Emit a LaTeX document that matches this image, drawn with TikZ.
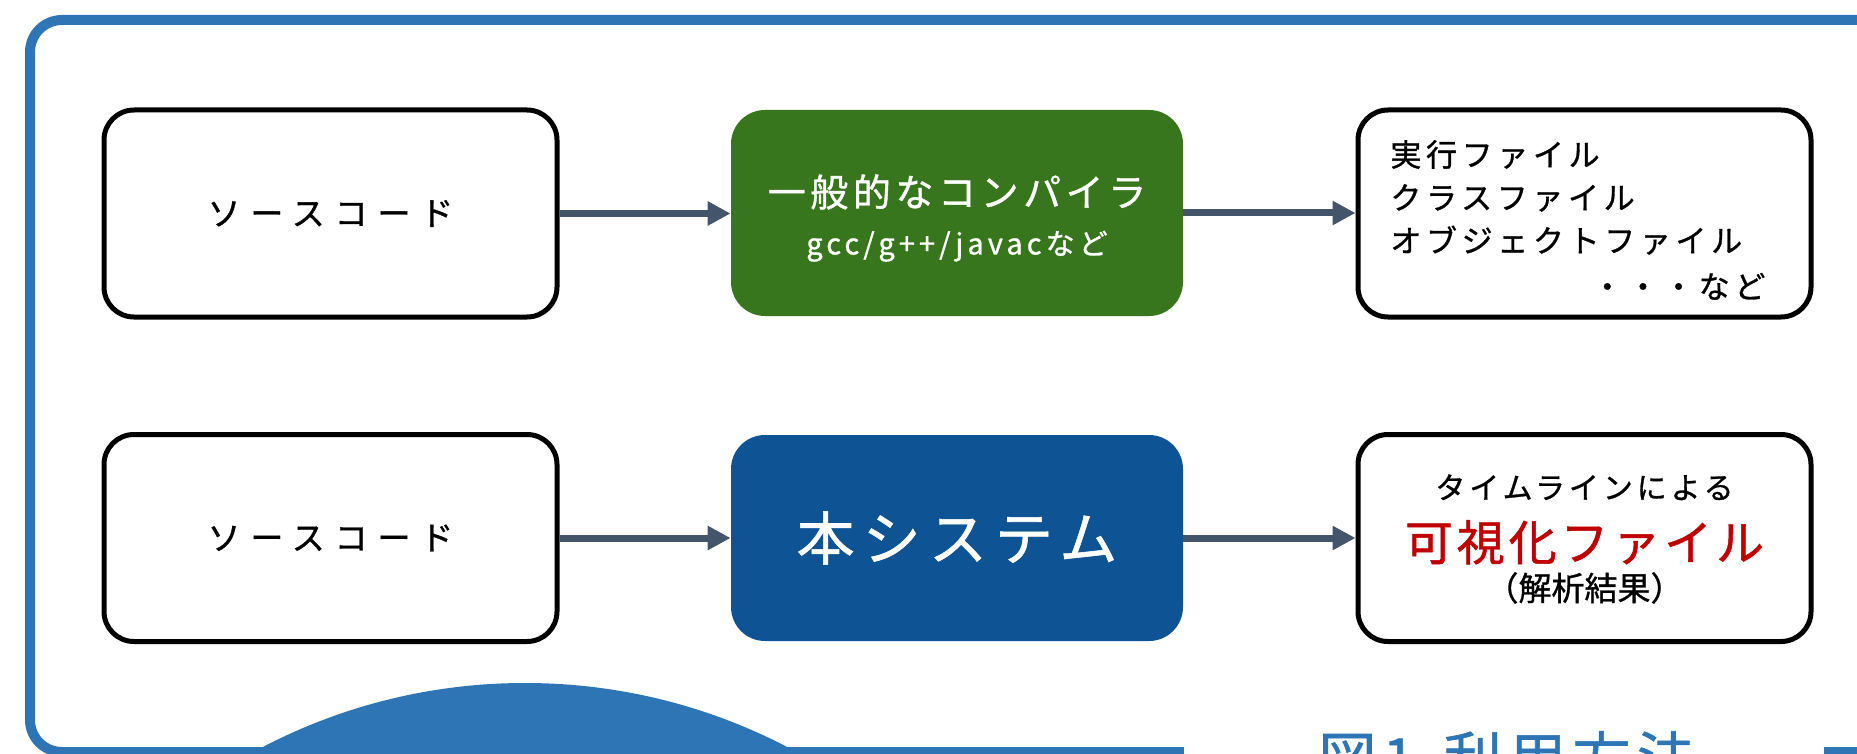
\documentclass[tikz,border=0pt]{standalone}
\usepackage{fontspec}
\setmainfont{Noto Sans CJK JP}[FakeBold=1]
\usetikzlibrary{arrows.meta}
\definecolor{frameblue}{HTML}{2E75B6}
\definecolor{boxgreen}{HTML}{38761D}
\definecolor{boxblue}{HTML}{0E5394}
\definecolor{arrowgray}{HTML}{44546A}
\definecolor{vizred}{HTML}{C00000}
\newcommand{\lsp}[1]{\addfontfeatures{LetterSpace=#1}}
\begin{document}
\begin{tikzpicture}[x=0.5pt,y=-0.5pt,
  whitebox/.style={draw=black,line width=2.5pt,fill=white,rounded corners=15pt,
    minimum width=226.5pt,minimum height=103.5pt,inner sep=0pt},
  fillbox/.style={draw=none,rounded corners=17pt,minimum width=226pt,
    minimum height=103pt,inner sep=0pt,text=white,align=center},
  srctext/.style={font=\fontsize{16.5pt}{20pt}\selectfont\lsp{30}},
  flow/.style={draw=arrowgray,line width=3.5pt,
    -{Triangle[length=11.5pt,width=11.5pt]}},
]
\useasboundingbox (0,0) rectangle (1857,754);
\begin{scope}
\clip (0,0) rectangle (1857,754);
% outer frame
\draw[frameblue,line width=5pt,rounded corners=16pt] (30,20) rectangle (1890,752);
% blue dome at bottom
\fill[frameblue] (525,1251) circle[radius=284pt];
% caption area
\fill[white] (1184,735) rectangle (1824,760);
\node[anchor=base west,inner sep=0pt,text=frameblue,
  font=\fontsize{29pt}{32pt}\selectfont\lsp{11}] (cap) at (1318,780) {図1.利用方法};

% row 1
\node[whitebox,srctext] (s1) at (330.5,213.5) {ソースコード};
\node[fillbox,fill=boxgreen] (g) at (957,213) {};
\node[inner sep=0pt,align=center,text=white,font=\fontsize{15pt}{18pt}\selectfont] (gt) at (957,218)
  {{\fontsize{19pt}{22pt}\selectfont\lsp{12}一般的なコンパイラ}\\[6pt]
   {\fontsize{14.5pt}{18pt}\selectfont\lsp{14}gcc/g++/javacなど}};
\node[whitebox] (r1) at (1584.5,213.5) {};
\node[anchor=west,inner sep=0pt,text width=187.5pt,align=left,
  font=\fontsize{15.5pt}{21.5pt}\selectfont\lsp{15}] (r1t) at (1390,220)
  {実行ファイル\\クラスファイル\\オブジェクトファイル\\[1.5pt]\hspace*{\fill}・・・など};

% row 2
\node[whitebox,srctext] (s2) at (330.5,538) {ソースコード};
\node[fillbox,fill=boxblue,font=\fontsize{29pt}{32pt}\selectfont\lsp{14}] (b) at (957,538) {本システム};
\node[whitebox] (r2) at (1584.5,538) {};
\node[inner sep=0pt,align=center,font=\fontsize{15pt}{20pt}\selectfont] (r2t) at (1584.5,539)
  {{\lsp{13}タイムラインによる}\\[9pt]
   {\fontsize{24pt}{26pt}\selectfont\lsp{8}\color{vizred}可視化ファイル}\\[0pt]
   {\fontsize{16.5pt}{20pt}\selectfont（解析結果）}};

% connectors
\draw[flow] (s1.east) -- (s1.east -| g.west);
\draw[flow] (g.east) -- (g.east -| r1.west);
\draw[flow] (s2.east) -- (s2.east -| b.west);
\draw[flow] (b.east) -- (b.east -| r2.west);
\end{scope}
\end{tikzpicture}
\end{document}
